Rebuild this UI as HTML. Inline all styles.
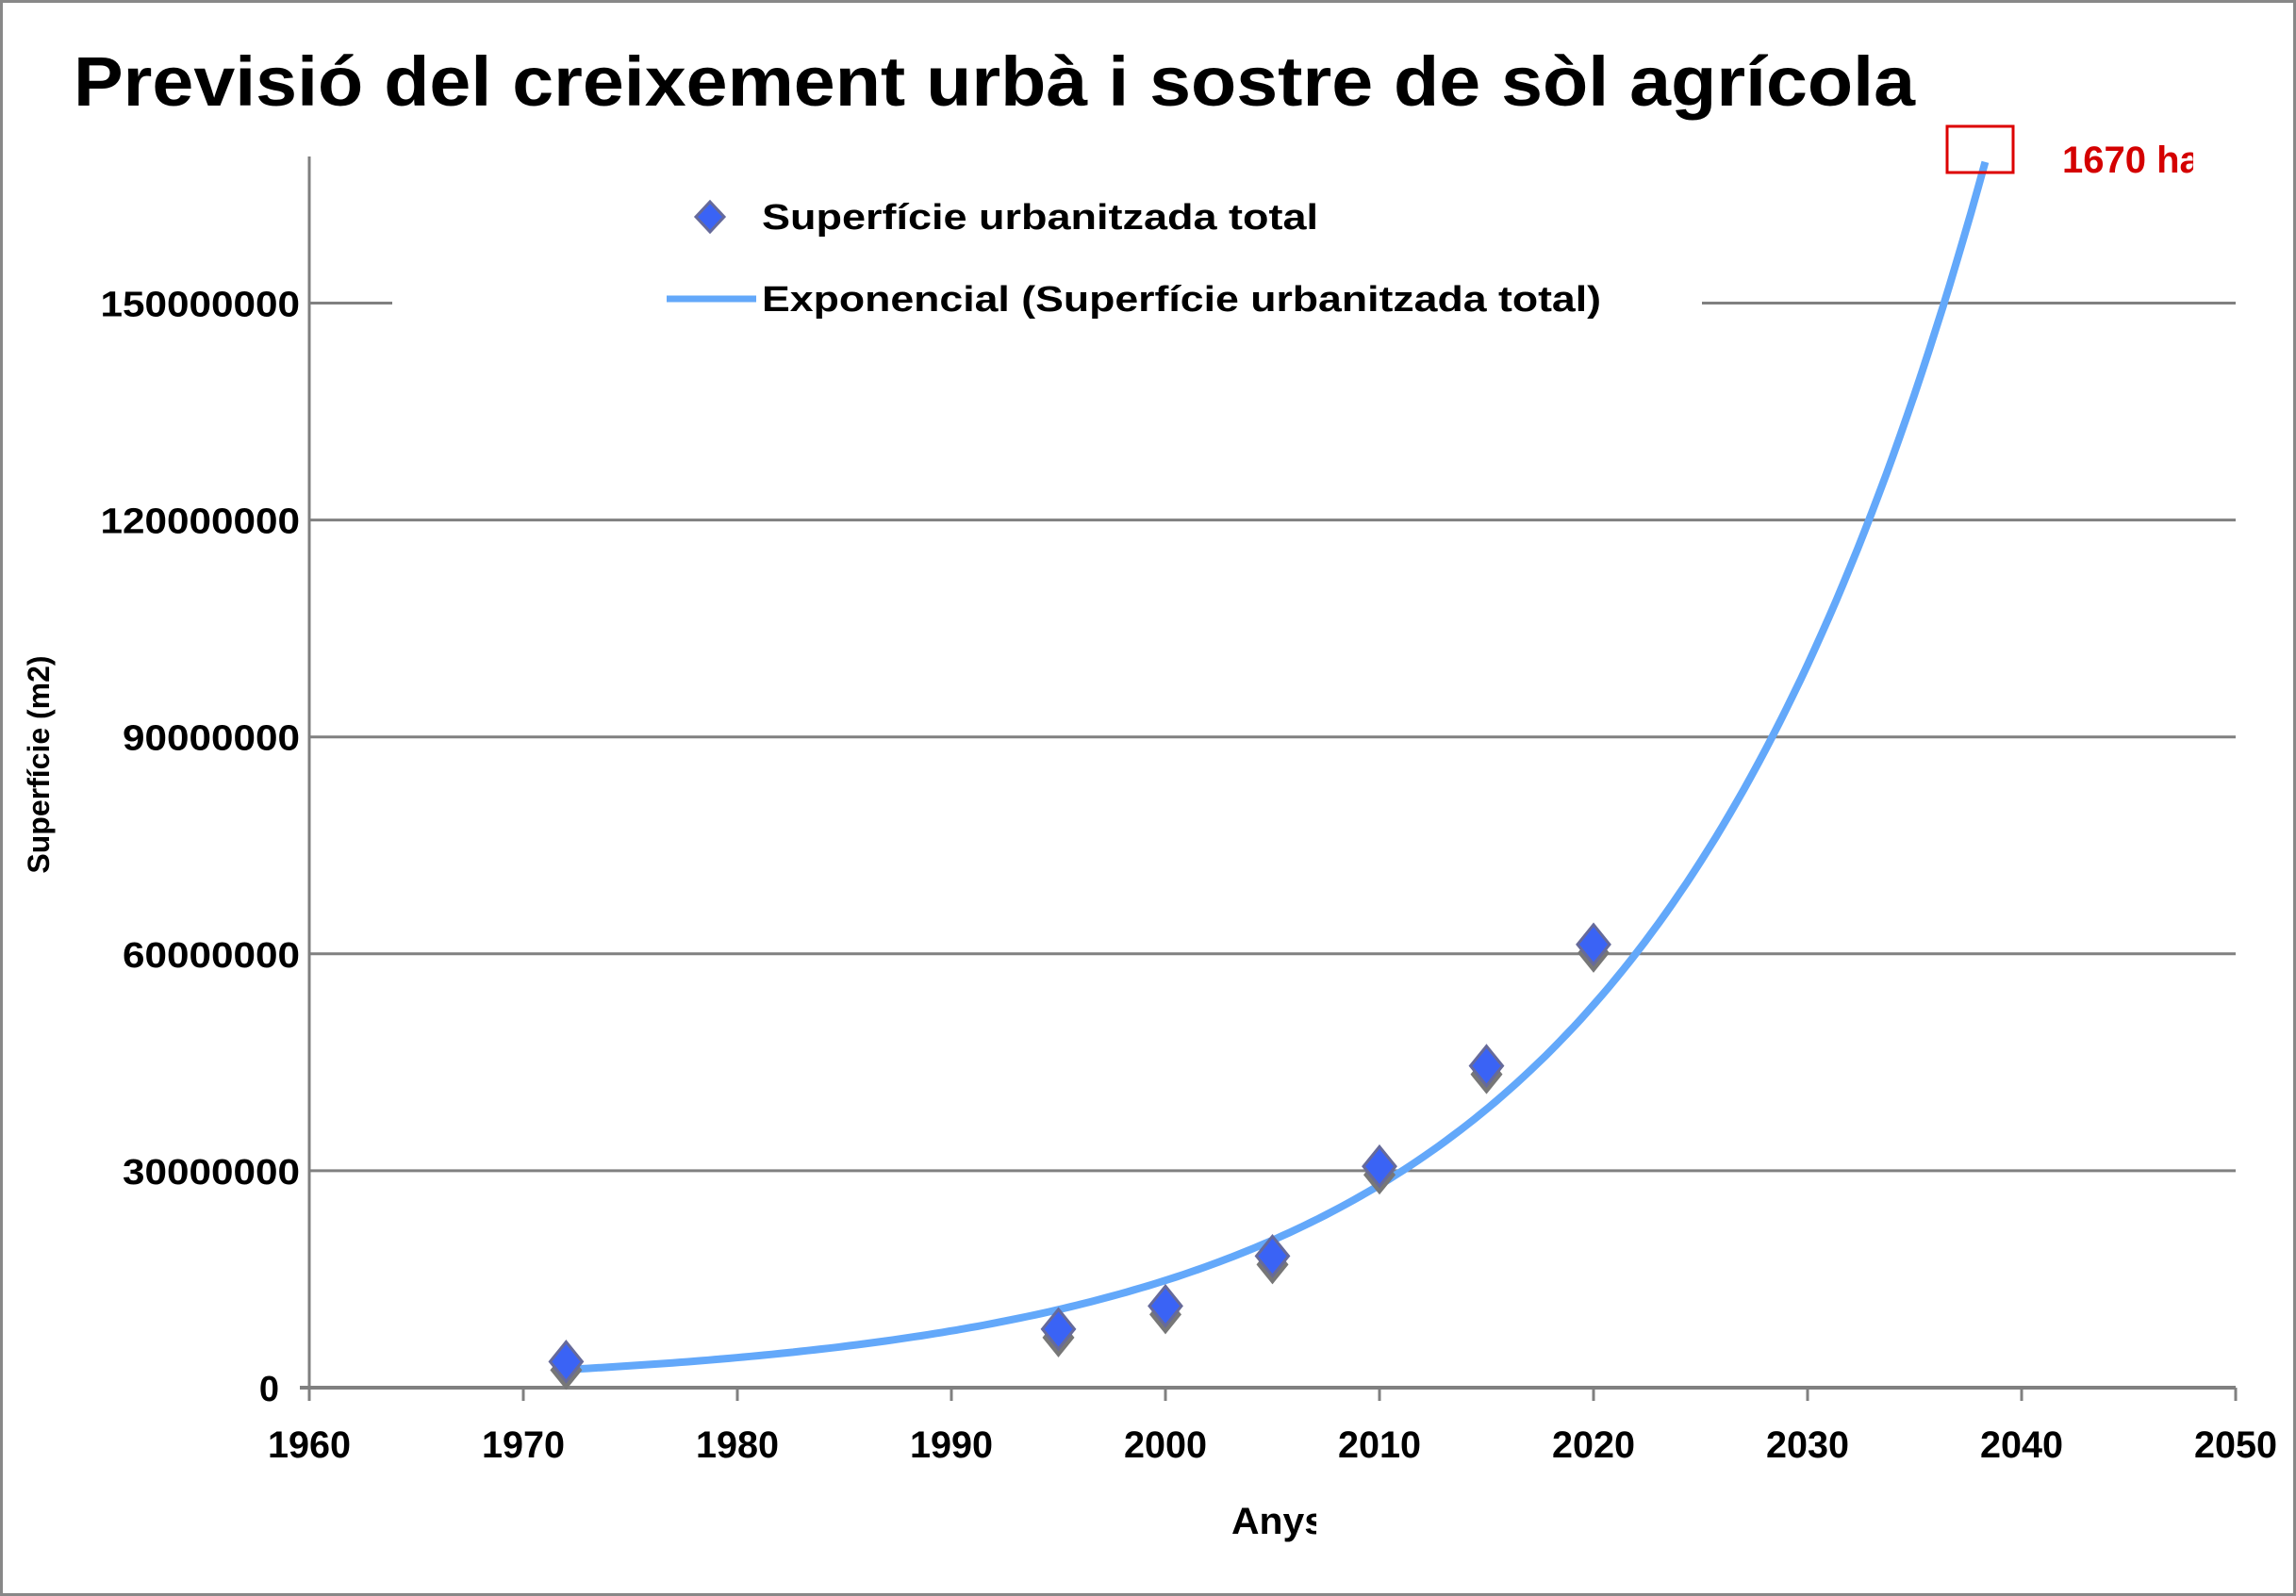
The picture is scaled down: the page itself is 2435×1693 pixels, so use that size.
<!DOCTYPE html>
<html><head><meta charset="utf-8"><style>
html,body{margin:0;padding:0;background:#fff}
svg{display:block}
text{font-family:"Liberation Sans",sans-serif;font-weight:bold}
</style></head><body>
<svg id="chart" width="2435" height="1693" viewBox="0 0 2435 1693">
<rect x="1.5" y="1.5" width="2432" height="1690" fill="#fff" stroke="#888" stroke-width="3"/>
<text x="78" y="112" font-size="74" textLength="1953" lengthAdjust="spacingAndGlyphs">Previsió del creixement urbà i sostre de sòl agrícola</text>
<g id="grid"></g>
<g id="axes"></g>
<g id="trend"></g>
<g id="points"></g>
<g>
  <rect x="416" y="300" width="1389" height="60" fill="#fff"/>
  <g>
    <path d="M753 214 L768 230 L753 246 L738 230 Z" fill="#3a63f5" stroke="#666a9a" stroke-width="3"/>
    <text x="808" y="243" font-size="38" textLength="590" lengthAdjust="spacingAndGlyphs">Superfície urbanitzada total</text>
  </g>
  <g>
    <line x1="707" y1="317" x2="802" y2="317" stroke="#63a8fa" stroke-width="7"/>
    <text x="808" y="330" font-size="38" textLength="890" lengthAdjust="spacingAndGlyphs">Exponencial (Superfície urbanitzada total)</text>
  </g>
</g>
<rect x="2065" y="134" width="70" height="49" fill="none" stroke="#d00" stroke-width="3"/>
<svg x="2180" y="130" width="146" height="70" overflow="hidden">
<text x="7" y="53" font-size="40" fill="#d40000">1670 ha</text>
</svg>
<text transform="translate(52,811) rotate(-90)" text-anchor="middle" font-size="32">Superfície (m2)</text>
<svg x="1300" y="1580" width="96" height="70" overflow="hidden">
<text x="6" y="47" font-size="40" textLength="100" lengthAdjust="spacingAndGlyphs">Anys</text>
</svg>
</svg>
<script>
const xTicks = [1960,1970,1980,1990,2000,2010,2020,2030,2040,2050];
const yTicks = [0,30000000,60000000,90000000,120000000,150000000];
const years = [1972,1995,2000,2005,2010,2015,2020];
const areas = [3600000,8100000,11300000,18200000,30600000,44500000,61300000];
const trendA = [2500000];
const trendB = [0.0636];
const trendRange = [1972,2038.3];

const NS='http://www.w3.org/2000/svg';
const X0=328,X1=2371,Y0=1472,Y1=321.5;
const xs=v=>X0+(v-1960)/(2050-1960)*(X1-X0);
const ys=v=>Y0-v/150000000*(Y0-Y1);
function mk(tag,attrs,parent){const e=document.createElementNS(NS,tag);for(const k in attrs)e.setAttribute(k,attrs[k]);parent.appendChild(e);return e;}
const grid=document.getElementById('grid'),axes=document.getElementById('axes');
yTicks.forEach(v=>{
  if(v>0){const l=mk('line',{x1:X0,x2:X1,y1:ys(v),y2:ys(v),stroke:'#808080','stroke-width':3},grid);
  
  }
  const t=mk('text',{x:v===0?296:318,y:ys(v)+14,'font-size':38,'text-anchor':'end'},axes);
  if(v>0){t.setAttribute('textLength',String(v).length*23.5);t.setAttribute('lengthAdjust','spacingAndGlyphs');}
  t.textContent=String(v);
  
  
});
const ya=mk('line',{x1:X0,x2:X0,y1:166,y2:Y0+8,stroke:'#808080','stroke-width':3},axes);


const xa=mk('line',{x1:X0-10,x2:X1,y1:Y0,y2:Y0,stroke:'#808080','stroke-width':4},axes);


xTicks.forEach(v=>{
  const tk=mk('line',{x1:xs(v),x2:xs(v),y1:Y0,y2:Y0+14,stroke:'#808080','stroke-width':3},axes);
  
  
  const t=mk('text',{x:xs(v),y:1546,'font-size':40,'text-anchor':'middle',textLength:88,lengthAdjust:'spacingAndGlyphs'},axes);
  t.textContent=String(v);
  
  
});
let d='';
for(let i=0;i<=200;i++){const t=trendRange[0]+(trendRange[1]-trendRange[0])*i/200;const v=trendA[0]*Math.exp(trendB[0]*(t-trendRange[0]));d+=(i?'L':'M')+xs(t).toFixed(1)+' '+ys(v).toFixed(1);}
const tp=mk('path',{d:d,fill:'none',stroke:'#63a8fa','stroke-width':8},document.getElementById('trend'));


const pg=document.getElementById('points');
years.forEach((yr,i)=>{
  const cx=xs(yr),cy=ys(areas[i]);
  const sh=mk('path',{d:`M${cx} ${cy-12} L${cx+17} ${cy+9} L${cx} ${cy+30} L${cx-17} ${cy+9} Z`,fill:'#777'},pg);
  
  
  const p=mk('path',{d:`M${cx} ${cy-21} L${cx+17} ${cy} L${cx} ${cy+21} L${cx-17} ${cy} Z`,fill:'#3a63f5',stroke:'#666a9a','stroke-width':3},pg);
  
  
});
</script>
</body></html>
